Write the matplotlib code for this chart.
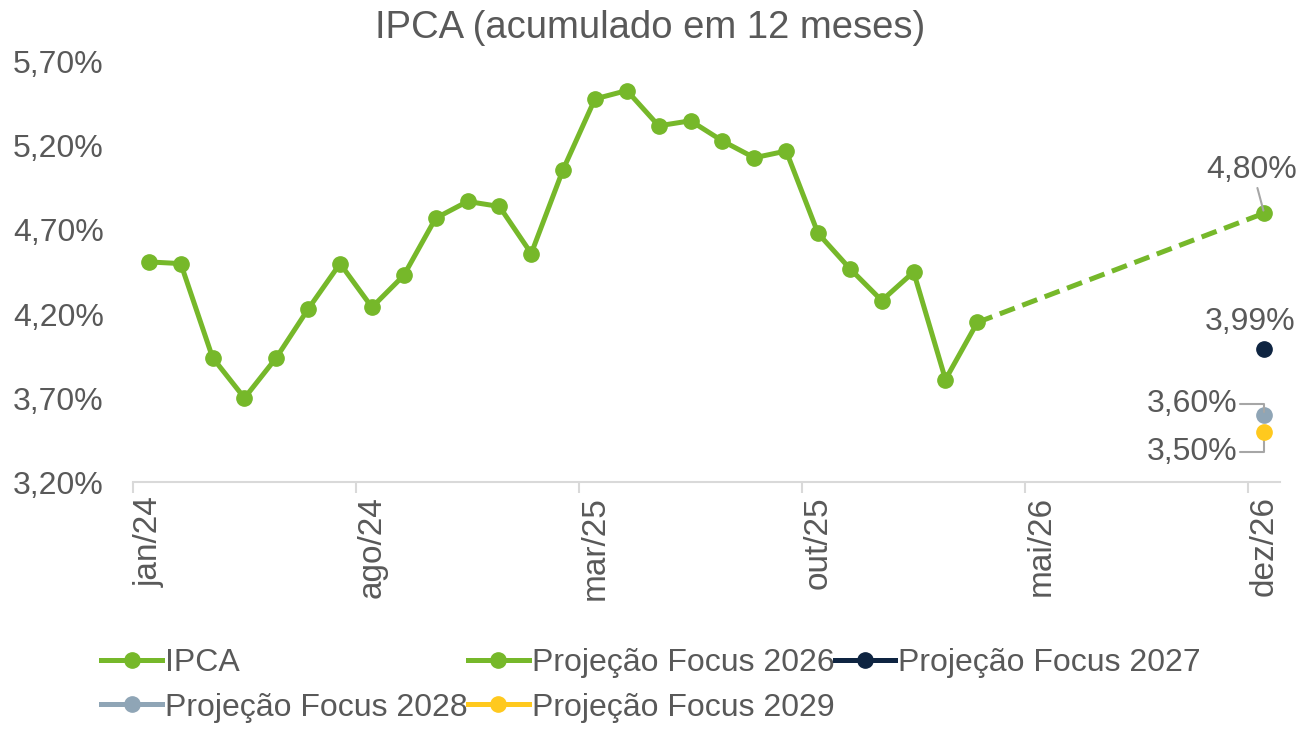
import matplotlib
matplotlib.use('Agg')
import matplotlib.pyplot as plt
from matplotlib.lines import Line2D
from matplotlib.ticker import FixedLocator, FuncFormatter

plt.rcParams['font.family'] = ['Liberation Sans', 'DejaVu Sans']

# Monthly axis jan/24 .. dez/26
month_abbr = ['jan', 'fev', 'mar', 'abr', 'mai', 'jun', 'jul', 'ago', 'set', 'out', 'nov', 'dez']
months = [f'{m}/{y}' for y in (24, 25, 26) for m in month_abbr]

# IPCA 12m accumulated, jan/24 .. mar/26
ipca = [4.51, 4.50, 3.94, 3.70, 3.94, 4.23, 4.50, 4.24, 4.43, 4.77, 4.87, 4.84,
        4.56, 5.06, 5.48, 5.53, 5.32, 5.35, 5.23, 5.13, 5.17, 4.68, 4.47, 4.28,
        4.45, 3.81, 4.15]

# Focus projections (for dez/26)
focus_2026_months = ['mar/26', 'dez/26']
focus_2026 = [4.15, 4.80]
focus_2027 = 3.99
focus_2028 = 3.60
focus_2029 = 3.50

green = '#76B82A'
navy = '#0E2441'
grayblue = '#8FA5B6'
yellow = '#FFC91E'
txt = '#595959'

fig = plt.figure(figsize=(13.01, 7.30), dpi=100)
ax = fig.add_axes([0.1022, 0.3397, 0.8817, 0.5754])

x_ipca = list(range(len(ipca)))
x_f26 = [months.index(m) for m in focus_2026_months]
x_dez26 = months.index('dez/26')

ms = 11
ax.plot(x_ipca, ipca, color=green, lw=3.6, marker='o', ms=ms, zorder=3)
ax.plot(x_f26, focus_2026, color=green, lw=3.6, ls=(0, (3.2, 1.6)), zorder=2)
ax.plot([x_f26[-1]], [focus_2026[-1]], color=green, marker='o', ms=ms, ls='none', zorder=3)
ax.plot([x_dez26], [focus_2027], color=navy, marker='o', ms=ms, ls='none', zorder=3)
ax.plot([x_dez26], [focus_2028], color=grayblue, marker='o', ms=ms, ls='none', zorder=3)
ax.plot([x_dez26], [focus_2029], color=yellow, marker='o', ms=ms, ls='none', zorder=4)

ax.set_xlim(-0.5, len(months) - 0.5)
ax.set_ylim(3.20, 5.70)
yticks = [3.20, 3.70, 4.20, 4.70, 5.20, 5.70]
ax.set_yticks(yticks)
ax.yaxis.set_major_formatter(FuncFormatter(lambda v, p: f'{v:.2f}%'.replace('.', ',')))
ax.tick_params(axis='y', length=0, labelsize=23, labelcolor=txt, pad=21)

# tick marks on boundaries, labels at month centres
label_idx = list(range(0, len(months), 7))
ax.xaxis.set_major_locator(FixedLocator([i - 0.5 for i in label_idx]))
ax.xaxis.set_minor_locator(FixedLocator(label_idx))
ax.set_xticklabels([''] * len(label_idx))
ax.set_xticklabels([months[i] for i in label_idx], minor=True, rotation=90)
ax.tick_params(axis='x', which='major', length=8, color='#D9D9D9', width=1.5)
ax.tick_params(axis='x', which='minor', length=0, labelsize=24, labelcolor=txt, pad=10)

for s in ['top', 'right', 'left']:
    ax.spines[s].set_visible(False)
ax.spines['bottom'].set_color('#D9D9D9')
ax.spines['bottom'].set_linewidth(1.5)

fig.text(0.5, 1 - 28 / 730, 'IPCA (acumulado em 12 meses)', fontsize=27.5, color=txt,
         ha='center', va='center')

lbl = lambda v: f'{v:.2f}%'.replace('.', ',')
lead = dict(arrowstyle='-', color='#A6A6A6', lw=1.5, shrinkA=0, shrinkB=2)
ax.annotate(lbl(focus_2026[-1]), (x_dez26, focus_2026[-1]), xytext=(-12, 43),
            textcoords='offset pixels', ha='center', va='center', fontsize=23, color=txt,
            arrowprops=dict(lead, relpos=(0.55, 0.0)))
ax.annotate(lbl(focus_2027), (x_dez26, focus_2027), xytext=(-14, 27),
            textcoords='offset pixels', ha='center', va='center', fontsize=23, color=txt)
ax.annotate(lbl(focus_2028), (x_dez26, focus_2028), xytext=(-27, 11),
            textcoords='offset pixels', ha='right', va='center', fontsize=23, color=txt,
            arrowprops=dict(lead, relpos=(1.0, 0.5),
                            connectionstyle='angle,angleA=0,angleB=90,rad=0'))
ax.annotate(lbl(focus_2029), (x_dez26, focus_2029), xytext=(-27, -20),
            textcoords='offset pixels', ha='right', va='center', fontsize=23, color=txt,
            arrowprops=dict(lead, relpos=(1.0, 0.5),
                            connectionstyle='angle,angleA=0,angleB=90,rad=0'))

def hnd(c):
    return Line2D([], [], color=c, lw=3.6, marker='o', ms=ms)

handles = [hnd(green), hnd(grayblue), hnd(green), hnd(yellow), hnd(navy)]
labels = ['IPCA', 'Projeção Focus 2028', 'Projeção Focus 2026',
          'Projeção Focus 2029', 'Projeção Focus 2027']
fig.legend(handles, labels, loc='upper left', bbox_to_anchor=(0.078, 0.112),
           ncol=3, frameon=False, fontsize=23, labelcolor=txt, handlelength=1.9,
           handletextpad=0.1, columnspacing=0.0, borderaxespad=0, borderpad=0,
           labelspacing=0.45)

fig.savefig('out.png', dpi=100)
